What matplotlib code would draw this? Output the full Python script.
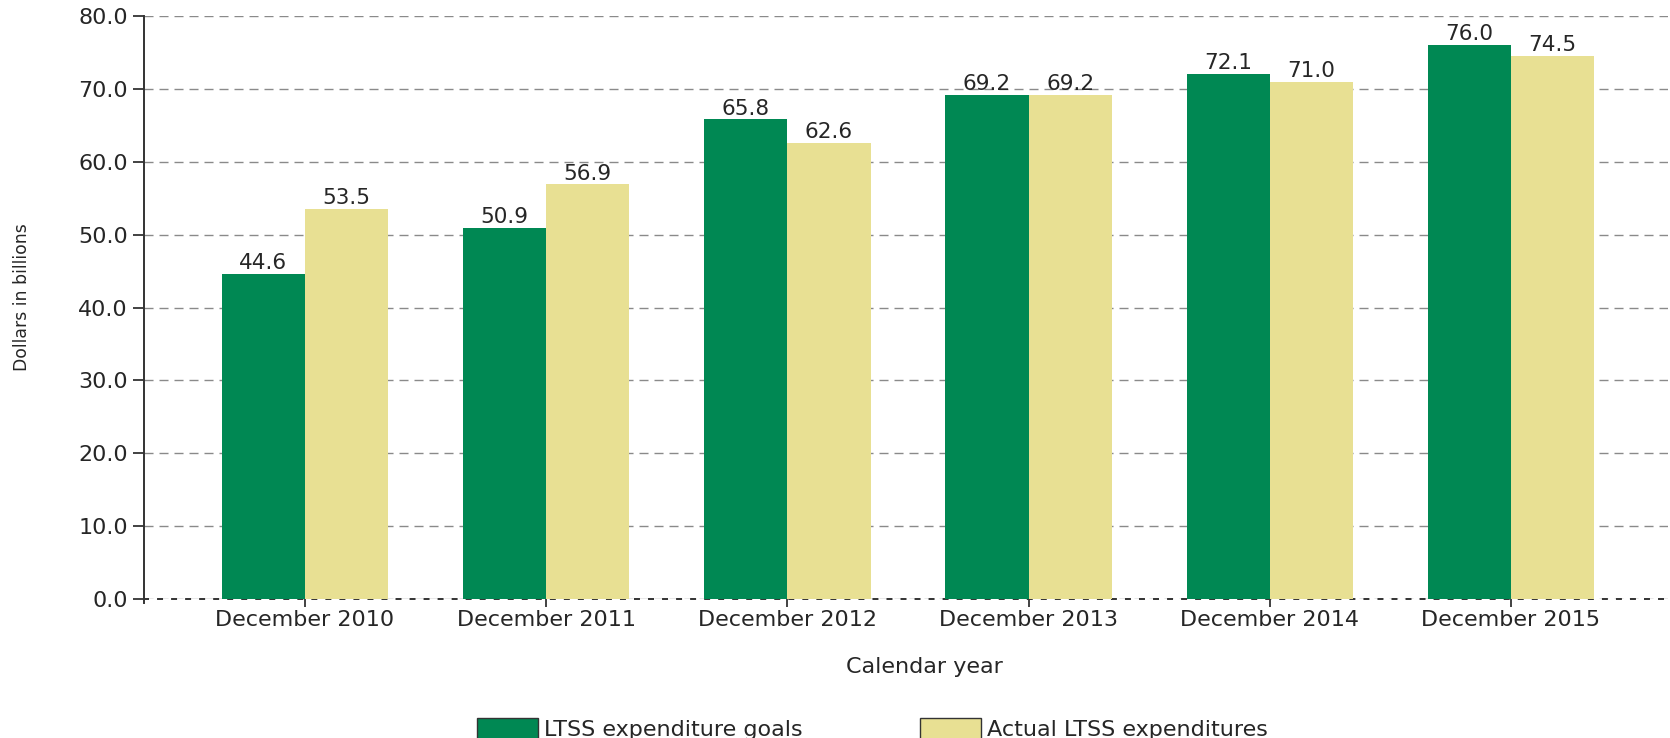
import matplotlib.pyplot as plt
import numpy as np

plt.rcParams["font.family"] = ["DejaVu Sans"]
plt.rcParams["lines.scale_dashes"] = False

years = ["December 2010", "December 2011", "December 2012",
         "December 2013", "December 2014", "December 2015"]
goals = [44.6, 50.9, 65.8, 69.2, 72.1, 76.0]
actual = [53.5, 56.9, 62.6, 69.2, 71.0, 74.5]

green = "#008853"
yellow = "#E8E093"
txt = "#262626"

fig = plt.figure(figsize=(16.7, 7.38), dpi=100)
ax = fig.add_axes([144 / 1670, 1 - 599 / 738, 1524 / 1670, 583 / 738])

x = np.arange(len(years))
w = 0.345
b1 = ax.bar(x - w / 2, goals, w, color=green, label="LTSS expenditure goals", zorder=3)
b2 = ax.bar(x + w / 2, actual, w, color=yellow, label="Actual LTSS expenditures", zorder=3)

for bars, vals in [(b1, goals), (b2, actual)]:
    for bar, v in zip(bars, vals):
        ax.annotate(f"{v:.1f}", (bar.get_x() + bar.get_width() / 2, v),
                    xytext=(0, 0.5), textcoords="offset points",
                    ha="center", va="bottom", fontsize=15.5, color=txt)

ax.set_xlim(-0.667, 5.651)
ax.set_ylim(0, 80)
ax.set_yticks(np.arange(0, 81, 10))
ax.set_yticklabels([f"{v:.1f}" for v in np.arange(0, 81, 10)])
ax.set_xticks(x)
ax.set_xticklabels(years)
ax.tick_params(axis="both", labelsize=16, labelcolor=txt, color="#333333", width=1.3)
ax.tick_params(axis="y", length=8, pad=3.5)
ax.tick_params(axis="x", length=6, pad=2)

ax.yaxis.grid(True, linestyle=(0, (6.5, 4.3)), color="#8a8a8a", linewidth=1.0, zorder=0)
for s in ["top", "right"]:
    ax.spines[s].set_visible(False)
ax.spines["left"].set_color("#333333")
ax.spines["left"].set_linewidth(1.4)
ax.spines["left"].set_bounds(-0.5, 80)
ax.spines["bottom"].set_linestyle((0, (2.9, 7.2)))
ax.spines["bottom"].set_color("#333333")
ax.spines["bottom"].set_linewidth(1.4)

ax.set_ylabel("Dollars in billions", fontsize=12.4, color=txt, va="center")
ax.yaxis.set_label_coords(-0.080, 0.518)
ax.set_xlabel("Calendar year", fontsize=16, color=txt, va="center")
ax.xaxis.set_label_coords(0.512, -0.1166)

leg = fig.legend(handles=[b1, b2], loc="center", bbox_to_anchor=(0.5225, 0.0122), ncol=2,
                 frameon=False, fontsize=16, handlelength=2.75, handleheight=1.08,
                 handletextpad=0.27, columnspacing=5.27, labelcolor=txt)
for h in leg.legend_handles:
    h.set_edgecolor("#333333")
    h.set_linewidth(1.0)

fig.savefig("out.png", dpi=100)
